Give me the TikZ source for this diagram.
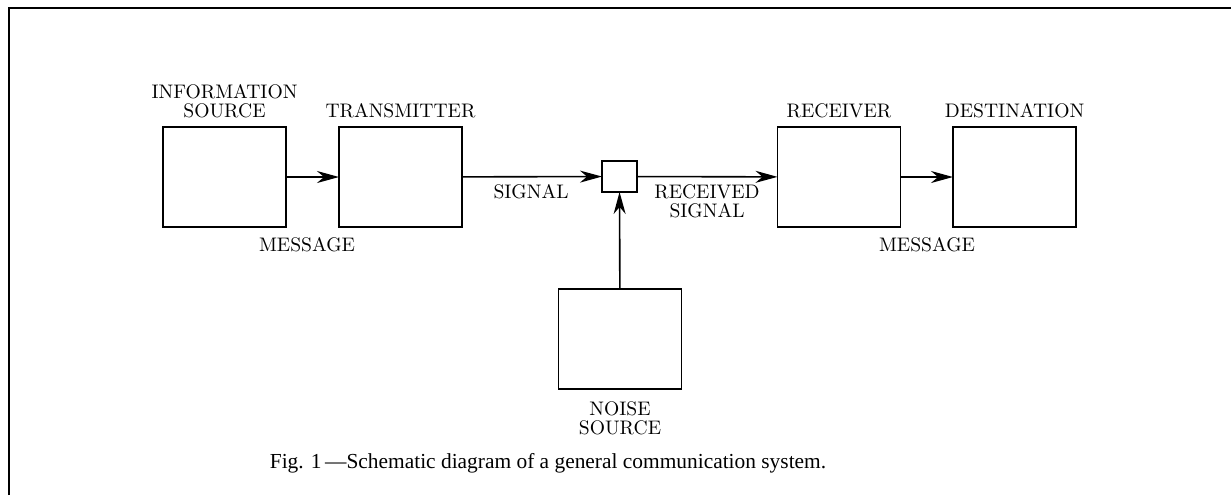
\documentclass[tikz,border=0pt]{standalone}
\usepackage{fontspec}
\newfontfamily\capfont{Liberation Serif}
\usetikzlibrary{arrows.meta, positioning}

\begin{document}
\begin{tikzpicture}[x=0.5pt, y=-0.5pt,
	blk/.style={draw, line width=0.8pt, inner sep=0pt, outer sep=0pt, minimum width=61.5pt, minimum height=50pt},
	lbl/.style={inner sep=0pt, align=center, font=\fontsize{9.8}{9.5}\selectfont},
	flow/.style={-{Stealth[length=11pt, width=6pt, inset=3.5pt]}, line width=0.8pt}]
	\useasboundingbox (0,0) rectangle (1231,495);
	\draw[line width=1.3pt] (9,495) -- (9,8) -- (1231,8);
	% blocks of the chain
	\node[blk] (src) at (224.5,177) {};
	\node[blk] (tx) at (400.5,177) {};
	\node[blk, minimum width=17.5pt, minimum height=15.5pt] (mix) at (619.5,176.5) {};
	\node[blk] (rx) at (839,177) {};
	\node[blk] (dst) at (1014.5,177) {};
	\node[blk] (noise) at (620,339) {};
	\draw[flow] (src) -- (tx);
	\draw[flow] (tx) -- (mix);
	\draw[flow] (mix) -- (rx);
	\draw[flow] (rx) -- (dst);
	\draw[flow] (noise) -- (mix);
	% labels
	\node[lbl, above=4.5pt of src] (srcL) {INFORMATION\\SOURCE};
	\node[lbl, above=4.5pt of tx] (txL) {TRANSMITTER};
	\node[lbl, above=4.5pt of rx] (rxL) {RECEIVER};
	\node[lbl, above=4.5pt of dst] (dstL) {DESTINATION};
	\node[lbl, below=6pt of noise] (noiseL) {NOISE\\SOURCE};
	\node[lbl, anchor=north] (msgA) at (307,237) {MESSAGE};
	\node[lbl, anchor=north] (msgB) at (927,237) {MESSAGE};
	\node[lbl, anchor=north] (sigL) at (531,184) {SIGNAL};
	\node[lbl, anchor=north] (rsigL) at (707,184) {RECEIVED\\SIGNAL};
	\node[font=\capfont\fontsize{10.7}{12}\selectfont, inner sep=0pt, anchor=base] (cap) at (548,468)
		{Fig. 1\,\textemdash Schematic diagram of a general communication system.};
\end{tikzpicture}
\end{document}
